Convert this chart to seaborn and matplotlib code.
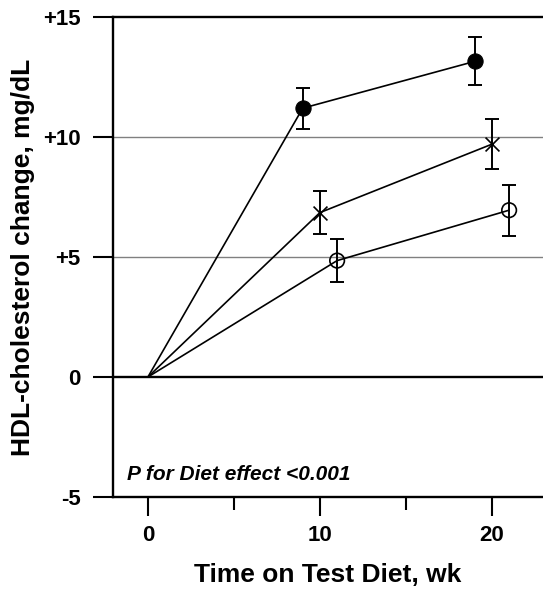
import matplotlib
matplotlib.use("Agg")
import matplotlib.pyplot as plt
import seaborn as sns
import pandas as pd

# HDL-cholesterol change (mg/dL) by week on each test diet, with SE
weeks_a = [0, 9, 19]
hdl_a = [0, 11.2, 13.15]
se_a = [0, 0.85, 1.0]

weeks_b = [0, 10, 20]
hdl_b = [0, 6.85, 9.7]
se_b = [0, 0.9, 1.05]

weeks_c = [0, 11, 21]
hdl_c = [0, 4.85, 6.95]
se_c = [0, 0.9, 1.07]

y_ticks = [-5, 0, 5, 10, 15]
y_ticklabels = ["-5", "0", "+5", "+10", "+15"]
x_ticks = [0, 10, 20]
x_minor = [5, 15]

sns.set_theme(style="white")
plt.rcParams["font.family"] = ["Liberation Sans", "DejaVu Sans"]
plt.rcParams["font.weight"] = "bold"
for key in ("text.color", "axes.labelcolor", "xtick.color", "ytick.color",
            "xtick.labelcolor", "ytick.labelcolor"):
    plt.rcParams[key] = "black"

df = pd.concat([
    pd.DataFrame({"week": weeks_a, "hdl": hdl_a, "se": se_a, "diet": "A"}),
    pd.DataFrame({"week": weeks_b, "hdl": hdl_b, "se": se_b, "diet": "B"}),
    pd.DataFrame({"week": weeks_c, "hdl": hdl_c, "se": se_c, "diet": "C"}),
], ignore_index=True)

fig = plt.figure(figsize=(5.43, 5.90), dpi=100)
ax = fig.add_axes([113 / 543, 93 / 590, 430 / 543, 480 / 590])

ax.set_xlim(-2.03, 22.97)
ax.set_ylim(-5, 15)

# reference lines
for yv in (5, 10):
    ax.axhline(yv, color="#808080", lw=1.0, zorder=1)
ax.axhline(0, color="black", lw=1.7, zorder=2)

# connecting lines from baseline
sns.lineplot(data=df, x="week", y="hdl", units="diet", estimator=None,
             color="black", lw=1.2, ax=ax, legend=False, zorder=3, sort=False)

styles = {
    "A": dict(marker="o", s=120, color="black", edgecolor="black", linewidth=0.8),
    "B": dict(marker="x", s=100, color="black", linewidth=1.2),
    "C": dict(marker="o", s=110, facecolor="none", edgecolor="black", linewidth=1.2),
}
for diet, sub in df.groupby("diet"):
    pts = sub[sub["week"] > 0]
    ax.errorbar(pts["week"], pts["hdl"], yerr=pts["se"], fmt="none",
                ecolor="black", elinewidth=1.4, capsize=4.7, capthick=1.4,
                zorder=4)
    sns.scatterplot(data=pts, x="week", y="hdl", ax=ax, zorder=5,
                    legend=False, **styles[diet])

ax.set_yticks(y_ticks)
ax.set_yticklabels(y_ticklabels)
ax.set_xticks(x_ticks)
ax.set_xticks(x_minor, minor=True)
ax.tick_params(axis="y", which="major", direction="out", length=14.4,
               width=1.5, color="black", labelcolor="black", pad=9,
               labelsize=16, left=True)
ax.tick_params(axis="x", which="major", direction="out", length=13.5,
               width=1.5, color="black", labelcolor="black", pad=7,
               labelsize=16, bottom=True)
ax.tick_params(axis="x", which="minor", direction="out", length=9,
               width=1.5, color="black", bottom=True)
for lab in ax.get_xticklabels() + ax.get_yticklabels():
    lab.set_fontweight("bold")

for side in ("left", "bottom", "top"):
    ax.spines[side].set_visible(True)
    ax.spines[side].set_color("black")
    ax.spines[side].set_linewidth(1.7)
ax.spines["right"].set_visible(False)

ax.set_xlabel("Time on Test Diet, wk", fontsize=19, fontweight="bold",
              va="baseline", color="black")
ax.xaxis.set_label_coords(0.5, -(582 - 497) / 480)
ax.set_ylabel("HDL-cholesterol change, mg/dL", fontsize=19,
              fontweight="bold", va="baseline", color="black")
ax.yaxis.set_label_coords(-(113 - 30) / 430, 0.5)

ax.text(-1.2, -4.05, "P for Diet effect <0.001", fontsize=15,
        fontweight="bold", fontstyle="italic", va="center", ha="left",
        color="black")

fig.savefig("out.png", dpi=100, facecolor="white")
